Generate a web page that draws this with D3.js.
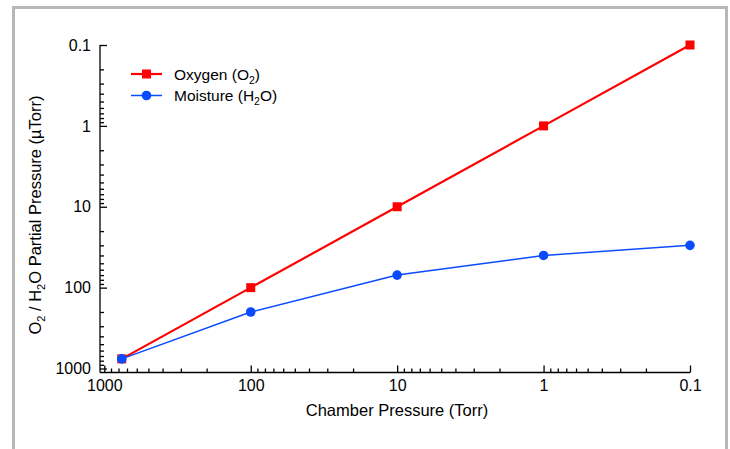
<!DOCTYPE html>
<html>
<head>
<meta charset="utf-8">
<script src="https://cdn.jsdelivr.net/npm/d3@7"></script>
<style>
  body { margin: 0; background: #fff; }
  svg { display: block; }
</style>
</head>
<body>
<script>
// chamber pressure (Torr) for each measured point
const pressures = [760, 100, 10, 1, 0.1];
// partial pressures (uTorr)
const oxygen = [760, 100, 10, 1, 0.1];
const moisture = [760, 200, 70, 40, 30];
// major tick values
const xTicks = [1000, 100, 10, 1, 0.1];
const yTicks = [0.1, 1, 10, 100, 1000];
const tickLabels = ['1000', '100', '10', '1', '0.1'];

width = 730
height = 449
font = "'Liberation Sans', Arial, sans-serif"

svg = d3.select('body').append('svg')
  .attr('width', width)
  .attr('height', height)
  .attr('font-family', font);

// grey frame (open at the bottom)
svg.append('path')
  .attr('d', 'M13.5,449 V7.5 H726.5 V449')
  .attr('fill', 'none')
  .attr('stroke', '#b5b7ba')
  .attr('stroke-width', 3);

// scales (both axes run from high to low)
x = d3.scaleLog().domain([1070, 0.1]).range([100, 690])
y = d3.scaleLog().domain([0.1, 1120]).range([45, 372.5])

// minor ticks 2..9 of each decade
minor = []
for (let e = -1; e < 3; e++) {
  for (let k = 2; k < 10; k++) minor.push(+(k * Math.pow(10, e)).toPrecision(3));
}
const fmt = d => tickLabels[xTicks.indexOf(d)] || '';

// x axis
gx = svg.append('g').attr('transform', `translate(0, ${y.range()[1]})`);
gx.call(d3.axisBottom(x).tickValues(minor).tickSize(-4).tickSizeOuter(0).tickFormat(''))
  .call(g => g.select('.domain').remove());
gx.append('g')
  .call(d3.axisBottom(x).tickValues(xTicks).tickSize(-7).tickSizeOuter(0).tickPadding(7).tickFormat(fmt))
  .call(g => g.selectAll('text').attr('font-size', 16).attr('fill', '#000').attr('font-family', font));
gx.selectAll('line, path').attr('stroke', '#000').attr('stroke-width', 1.3);
gx.selectAll('.domain').attr('d', `M${x.range()[0]},0H${x.range()[1]}`);

// y axis
gy = svg.append('g').attr('transform', `translate(${x.range()[0]}, 0)`);
gy.call(d3.axisLeft(y).tickValues(minor.filter(d => d < 1000)).tickSize(-4).tickSizeOuter(0).tickFormat(''))
  .call(g => g.select('.domain').remove());
gy.append('g')
  .call(d3.axisLeft(y).tickValues(yTicks).tickSize(-7).tickSizeOuter(0).tickPadding(9).tickFormat(fmt))
  .call(g => g.selectAll('text').attr('font-size', 16).attr('fill', '#000').attr('font-family', font));
gy.selectAll('line, path').attr('stroke', '#000').attr('stroke-width', 1.3);
gy.selectAll('.domain').attr('d', `M0,${y.range()[0]}V${y.range()[1]}`);

// axis titles
svg.append('text')
  .attr('x', 397).attr('y', 416)
  .attr('text-anchor', 'middle')
  .attr('font-size', 16.5)
  .text('Chamber Pressure (Torr)');

yt = svg.append('text')
  .attr('transform', 'translate(41, 215) rotate(-90)')
  .attr('text-anchor', 'middle')
  .attr('font-size', 16.5);
yt.append('tspan').text('O');
yt.append('tspan').attr('font-size', 11).attr('dy', 4).text('2');
yt.append('tspan').attr('dy', -4).text(' / H');
yt.append('tspan').attr('font-size', 11).attr('dy', 4).text('2');
yt.append('tspan').attr('dy', -4).text('O Partial Pressure (\u00b5Torr)');

// series
series = [
  {name: 'Oxygen', sub: 'O', vals: oxygen, color: '#ff0000', width: 2.2, marker: 'square'},
  {name: 'Moisture', sub: 'H', vals: moisture, color: '#0a4bff', width: 1.5, marker: 'circle'}
]
line = d3.line().x(d => x(d[0])).y(d => y(d[1]));

series.forEach(s => {
  const pts = pressures.map((p, i) => [p, s.vals[i]]);
  svg.append('path')
    .attr('d', line(pts))
    .attr('fill', 'none')
    .attr('stroke', s.color)
    .attr('stroke-width', s.width);
  if (s.marker === 'square') {
    svg.selectAll(null).data(pts).join('rect')
      .attr('x', d => x(d[0]) - 4.5)
      .attr('y', d => y(d[1]) - 4.5)
      .attr('width', 9).attr('height', 9)
      .attr('fill', s.color);
  } else {
    svg.selectAll(null).data(pts).join('circle')
      .attr('cx', d => x(d[0]))
      .attr('cy', d => y(d[1]))
      .attr('r', 4.8)
      .attr('fill', s.color);
  }
});

// legend
legend = svg.append('g').attr('transform', 'translate(131, 74)');
series.forEach((s, i) => {
  const g = legend.append('g').attr('transform', `translate(0, ${i * 21.5})`);
  g.append('line').attr('x1', 0).attr('x2', 31).attr('stroke', s.color).attr('stroke-width', s.width);
  if (s.marker === 'square') {
    g.append('rect').attr('x', 11).attr('y', -4.5).attr('width', 9).attr('height', 9).attr('fill', s.color);
  } else {
    g.append('circle').attr('cx', 15.5).attr('r', 4.8).attr('fill', s.color);
  }
  const t = g.append('text').attr('x', 43).attr('y', 5.5).attr('font-size', 15.5);
  t.append('tspan').text(s.name + ' (' + s.sub);
  t.append('tspan').attr('font-size', 10.5).attr('dy', 4).text('2');
  t.append('tspan').attr('dy', -4).text(i === 0 ? ')' : 'O)');
});
</script>
</body>
</html>
